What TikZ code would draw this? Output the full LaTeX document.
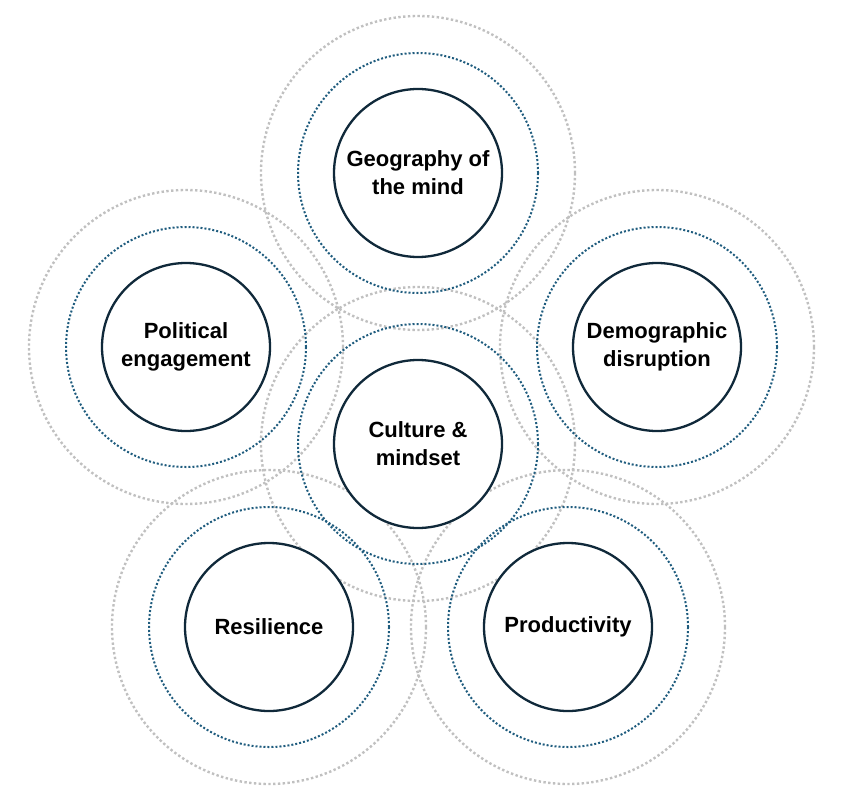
\documentclass[tikz,border=0pt]{standalone}
\usepackage{fontspec}
\setmainfont{Liberation Sans}
\definecolor{navyline}{RGB}{16,41,58}
\definecolor{tealdots}{RGB}{31,92,126}
\definecolor{greydots}{RGB}{192,192,192}

\begin{document}
\begin{tikzpicture}[x=1pt, y=-1pt,
    core/.style={circle, draw=navyline, line width=2.3pt, fill=white,
        minimum size=168pt, inner sep=0pt, align=center,
        font=\bfseries\fontsize{22}{28}\selectfont},
    midring/.style={draw=tealdots, line width=2pt, dash pattern=on 2pt off 2pt},
    outring/.style={draw=greydots, line width=2.4pt, dash pattern=on 2.4pt off 2.4pt}]
        \useasboundingbox (0,0) rectangle (850,810);
        % ==== CENTRES ====
        \coordinate (c-cult) at (418,444);
        \coordinate (c-geo)  at (418,173);
        \coordinate (c-pol)  at (186,347);
        \coordinate (c-demo) at (657,347);
        \coordinate (c-res)  at (269,627);
        \coordinate (c-prod) at (568,627);
        % ==== OUTER GREY RINGS ====
        \foreach \c in {cult,geo,pol,demo,res,prod}
            \draw[outring] (c-\c) circle (157pt);
        % ==== BLUE RINGS ====
        \foreach \c in {cult,geo,pol,demo,res,prod}
            \draw[midring] (c-\c) circle (120pt);
        % ==== CORE CIRCLES ====
        \node[core] (cult) at (c-cult) {Culture \&\\mindset};
        \node[core] (geo)  at (c-geo)  {Geography of\\the mind};
        \node[core] (pol)  at (c-pol)  {Political\\engagement};
        \node[core] (demo) at (c-demo) {Demographic\\disruption};
        \node[core] (res)  at (c-res)  {Resilience};
        \node[core] (prod) at (c-prod) {Productivity};
\end{tikzpicture}
\end{document}
